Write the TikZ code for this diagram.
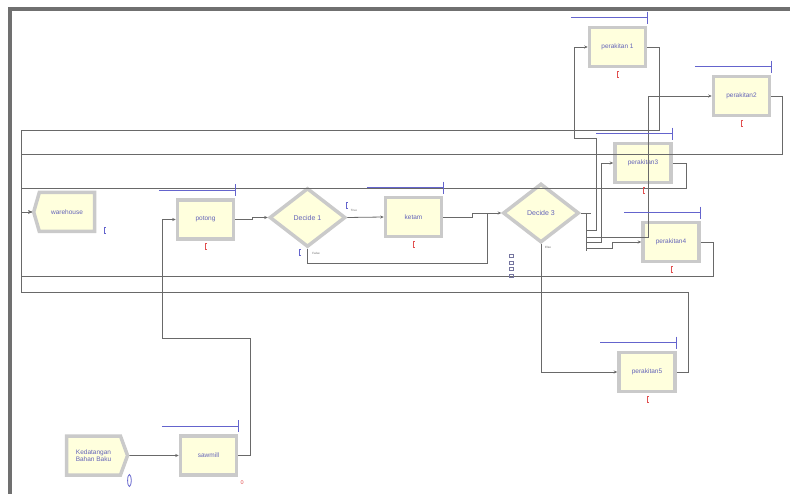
\documentclass[tikz,border=0pt]{standalone}
\usepackage{fontspec}
\setmainfont{Liberation Sans}
\usetikzlibrary{arrows.meta,calc,shapes.geometric,shapes.symbols}

\definecolor{modfill}{RGB}{255,255,221}
\definecolor{modedge}{RGB}{202,202,202}
\definecolor{modtext}{RGB}{100,100,185}
\definecolor{wiregray}{RGB}{105,105,105}
\definecolor{qblue}{RGB}{100,100,205}
\definecolor{cred}{RGB}{225,80,80}
\definecolor{framegray}{RGB}{112,112,112}

% queue line above a module, counter mark below it
\newcommand{\qline}[1]{%
  \draw[qblue,line width=.8pt] ($(#1.north west)+(-17,-8)$) -- ($(#1.north east)+(0,-8)$) ++(0,-6) -- ++(0,12);}
\newcommand{\rmark}[1]{%
  \draw[cred,line width=.8pt] ($(#1.south)+(1.5,3)$) -- ++(-1.5,0) -- ++(0,6) -- ++(1.5,0);}

\begin{document}
\begin{tikzpicture}[x=1pt,y=-1pt,font=\fontsize{6.5}{7.5}\selectfont,
  proc/.style={rectangle,draw=modedge,fill=modfill,line width=3.5pt,
    minimum width=56,minimum height=39,inner sep=0pt,text=modtext},
  decide/.style={diamond,draw=modedge,fill=modfill,line width=3.5pt,
    minimum width=76,minimum height=59,inner sep=0pt,text=modtext,font=\fontsize{7}{8}\selectfont},
  create/.style={signal,signal to=east,signal pointer angle=140,draw=modedge,fill=modfill,
    line width=3.5pt,minimum width=61,minimum height=39,inner sep=0pt,text=modtext,align=center},
  dispose/.style={signal,signal to=west,signal pointer angle=148,draw=modedge,fill=modfill,
    line width=3.5pt,minimum width=61,minimum height=39,inner sep=0pt,text=modtext},
  wire/.style={draw=wiregray,line width=.8pt},
  entry/.style={wire,-{Stealth[length=3.5pt,width=3pt]}},
  tag/.style={font=\fontsize{3}{3}\selectfont,text=wiregray,inner sep=0pt}]
 \useasboundingbox (0,0) rectangle (790,494);
 \draw[framegray,line width=4pt] (10,494) -- (10,9.5) -- (790,9.5);

 \node[create] (arrive) at (93.5,455.5) {Kedatangan\\Bahan Baku};
 \node[proc] (sawmill) at (208.5,455.5) {sawmill};
 \node[proc] (potong) at (205.5,219.5) {potong};
 \node[decide] (dec1) at (307.5,217.5) {Decide 1};
 \node[proc] (ketam) at (413.5,217) {ketam};
 \node[decide] (dec3) at (541,213) {Decide 3};
 \node[proc] (rakit1) at (617.5,47) {perakitan 1};
 \node[proc] (rakit2) at (741.5,96) {perakitan2};
 \node[proc] (rakit3) at (643,163) {perakitan3};
 \node[proc] (rakit4) at (671,242) {perakitan4};
 \node[proc] (rakit5) at (647,372) {perakitan5};
 \node[dispose] (warehouse) at (67,212) {warehouse};
 \coordinate (back) at (21,212);
 \coordinate (bus) at ($(dec3.east)+(6,0)$);

 \node[tag] (ttrue) at (354,210) {True};
 \node[tag] (tfalse) at (316,253) {False};
 \node[tag] (telse) at (548,247) {Else};

 % main line
 \draw[entry] (arrive) -- (sawmill);
 \draw[entry] (sawmill.east) -| (250,338) -| ($(potong.west)+(-13,0)$) -- (potong.west);
 \draw[entry] (potong.east) -- ++(17,0) |- (dec1.west);
 \draw[entry] (dec1.east) -- (ketam.west);
 \draw[entry] (ketam.east) -- ++(29,0) |- (dec3.west);
 \draw[wire] (dec1.south) -- ++(0,15) -| (487,213);

 % decide 3 to the assembly stations
 \draw[wire] (dec3.east) -- ++(10,0);
 \draw[wire] (bus) -- ++(0,38);
 \draw[entry] ($(bus)+(0,17)$) -| (596,138) -| ($(rakit1.west)+(-13,0)$) -- (rakit1.west);
 \draw[entry] ($(bus)+(0,24)$) -| ($(rakit2.west)+(-63,0)$) -- (rakit2.west);
 \draw[entry] ($(bus)+(0,29)$) -| ($(rakit3.west)+(-12,0)$) -- (rakit3.west);
 \draw[entry] ($(bus)+(0,35)$) -- ++(26,0) |- (rakit4.west);
 \draw[entry] (dec3.south) |- (rakit5.west);

 % back to the warehouse
 \draw[entry] (rakit1.east) -- ++(12,0) |- ($(back)+(0,-82)$) -- (back) -- (warehouse.west);
 \draw[entry] (rakit2.east) -- ++(11,0) |- ($(back)+(0,-58)$) -- (back) -- (warehouse.west);
 \draw[entry] (rakit3.east) -- ++(14,0) |- ($(back)+(0,-24)$) -- (back) -- (warehouse.west);
 \draw[entry] (rakit4.east) -- ++(13,0) |- ($(back)+(0,64)$) -- (back) -- (warehouse.west);
 \draw[entry] (rakit5.east) -- ++(12,0) |- ($(back)+(0,80)$) -- (back) -- (warehouse.west);

 % animation marks
 \foreach \m in {sawmill,potong,ketam,rakit1,rakit2,rakit3,rakit4,rakit5} {\qline{\m}}
 \foreach \m in {potong,ketam,rakit1,rakit2,rakit3,rakit4,rakit5} {\rmark{\m}}
 \node[text=cred,font=\fontsize{5.5}{5.5}\selectfont,inner sep=0pt] (count) at ($(sawmill.south east)+(4,6)$) {0};
 \draw[qblue,line width=.8pt] ($(arrive.east)+(0,25)$) ellipse (1.8 and 6);
 \foreach \p in {(104,230),(346,205),(299,252)}
  \draw[qblue,line width=.7pt] \p ++(1.5,-3) -- ++(-1.5,0) -- ++(0,6) -- ++(1.5,0);
 \foreach \yy in {256,262.5,269,275.5}
  \draw[qblue!40!gray,line width=.5pt] (509,\yy-1.5) rectangle (513,\yy+1.5);
\end{tikzpicture}
\end{document}
